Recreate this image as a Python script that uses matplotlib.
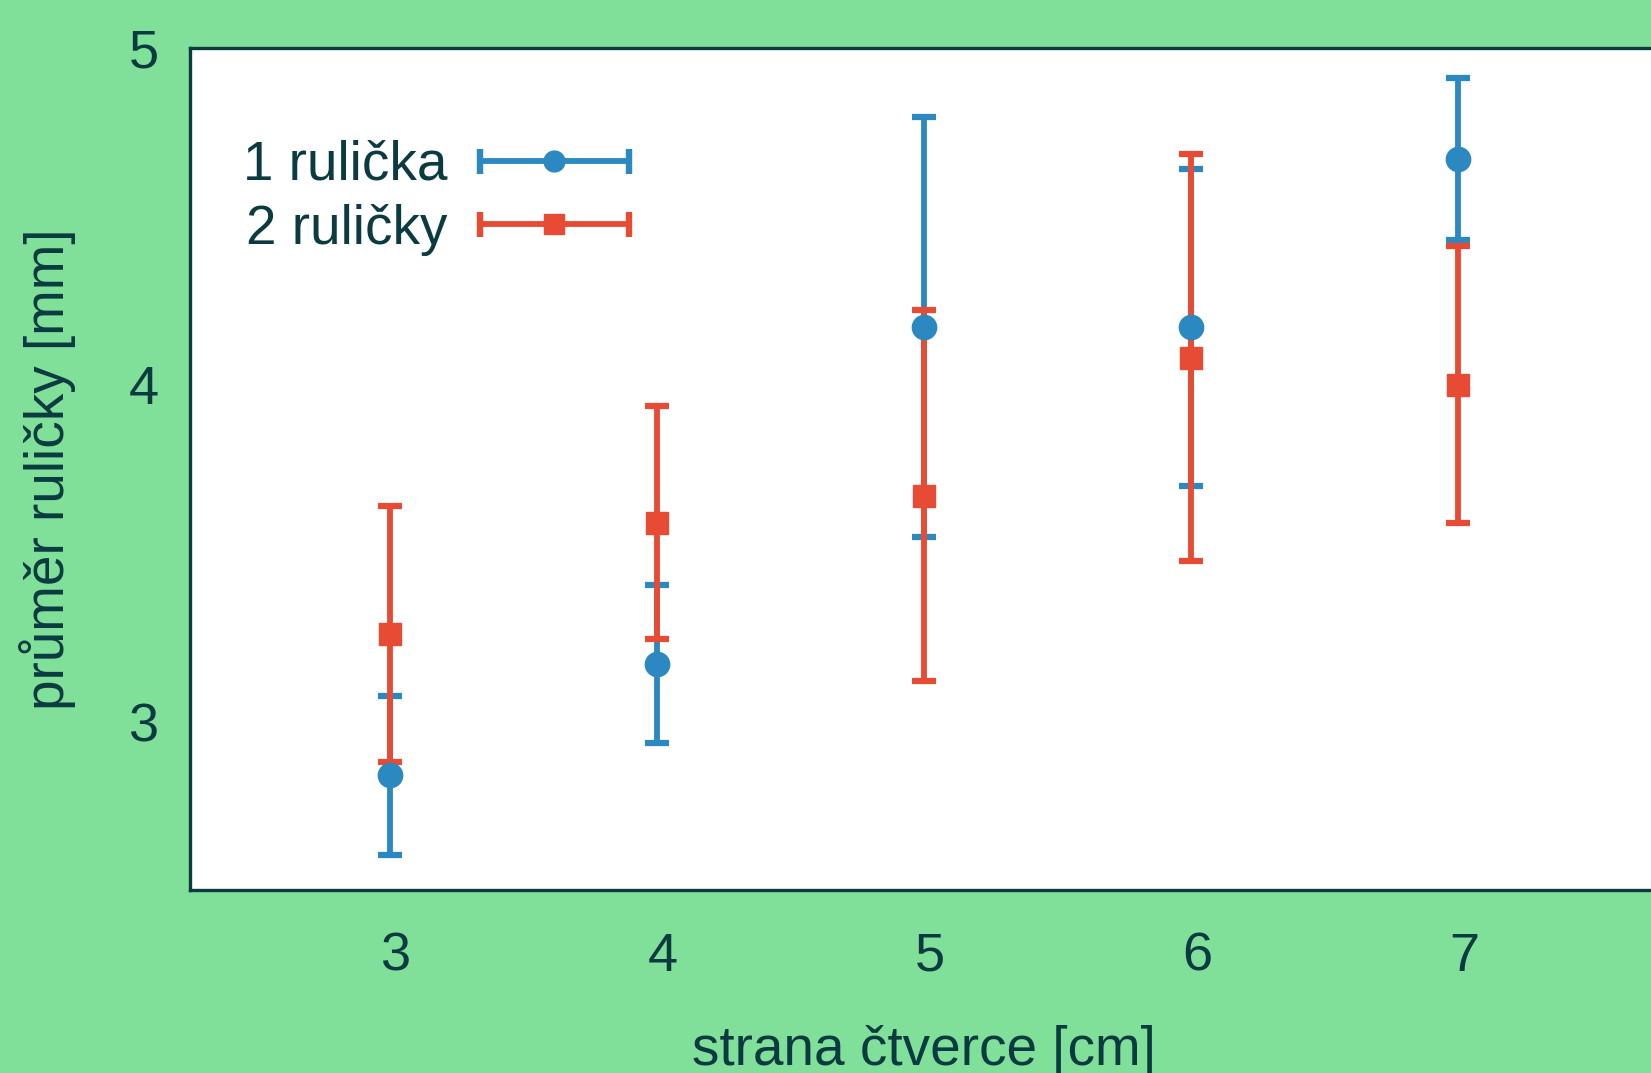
import numpy as np
import matplotlib
matplotlib.use('Agg')
import matplotlib.pyplot as plt
import matplotlib.transforms as mtransforms
from matplotlib.lines import Line2D
from matplotlib.legend_handler import HandlerBase

# data
strana = [3, 4, 5, 6, 7]
jedna_mean = [2.84, 3.17, 4.17, 4.17, 4.67]
jedna_err = [0.235, 0.235, 0.623, 0.47, 0.24]
dve_mean = [3.26, 3.59, 3.67, 4.08, 4.00]
dve_err = [0.38, 0.345, 0.55, 0.605, 0.41]
labels = ['1 rulička', '2 ruličky']

bg = '#80df98'
blue = '#2b88c0'
red = '#e84b34'
ink = '#0b3b40'
LW = 4.2

plt.rcParams['font.family'] = ['Liberation Sans', 'DejaVu Sans']
plt.rcParams['font.size'] = 39


class GnuKey(HandlerBase):
    # gnuplot-like key: horizontal bar with caps at both ends, marker in middle
    def create_artists(self, legend, orig_handle, xdescent, ydescent,
                       width, height, fontsize, trans):
        y = height / 2 - ydescent
        x0, x1 = -xdescent, width - xdescent
        c = orig_handle.get_color()
        bar = Line2D([x0, x1], [y, y], color=c, lw=LW, solid_capstyle='butt')
        caps = Line2D([x0, x1], [y, y], ls='none', marker='|', ms=18, mew=LW + 0.4, color=c)
        dot = Line2D([(x0 + x1) / 2], [y], ls='none', marker=orig_handle.get_marker(),
                     ms=orig_handle.get_markersize(), color=c)
        for a in (bar, caps, dot):
            a.set_transform(trans)
        return [bar, caps, dot]


fig = plt.figure(figsize=(16.51, 10.73), dpi=100)
fig.patch.set_facecolor(bg)
ax = fig.add_axes([189.5 / 1651, 183 / 1073, 1468.5 / 1651, 842.4 / 1073])
ax.set_facecolor('white')

ax.errorbar(strana, jedna_mean, yerr=jedna_err, fmt='o', color=blue, ms=17.5,
            elinewidth=LW, capsize=8.9, capthick=LW + 0.3)
ax.errorbar(strana, dve_mean, yerr=dve_err, fmt='s', color=red, ms=16.5,
            elinewidth=LW, capsize=8.9, capthick=LW + 0.3)

ax.set_xlim(2.25, 7.75)
ax.set_ylim(2.5, 5)
ax.set_xticks(strana)
ax.set_yticks([3, 4, 5])
ax.tick_params(length=0, colors=ink, labelsize=39)
ax.tick_params(axis='x', pad=30)
ax.tick_params(axis='y', pad=22)
shift = mtransforms.ScaledTranslation(0.063, 0, fig.dpi_scale_trans)
for lab in ax.get_xticklabels():
    lab.set_transform(lab.get_transform() + shift)
for s in ax.spines.values():
    s.set_color(ink)
    s.set_linewidth(2.4)

ax.set_xlabel('strana čtverce [cm]', color=ink, fontsize=39.5)
ax.xaxis.set_label_coords(0.5, -0.160)
ax.set_ylabel('průměr ruličky [mm]', color=ink, fontsize=39.5)
ax.yaxis.set_label_coords(-0.077, 0.5)

h1 = Line2D([], [], color=blue, marker='o', ms=15)
h2 = Line2D([], [], color=red, marker='s', ms=14.5)
leg = ax.legend([h1, h2], labels, handler_map={Line2D: GnuKey()},
                loc='upper left', bbox_to_anchor=(243 / 1651, 1 - 140 / 1073),
                bbox_transform=fig.transFigure, frameon=False, markerfirst=False,
                borderpad=0, borderaxespad=0, handlelength=2.7, handletextpad=0.6,
                labelspacing=0.21, fontsize=39.5)
for t in leg.get_texts():
    t.set_color(ink)

plt.savefig('out.png', dpi=100, facecolor=bg)
